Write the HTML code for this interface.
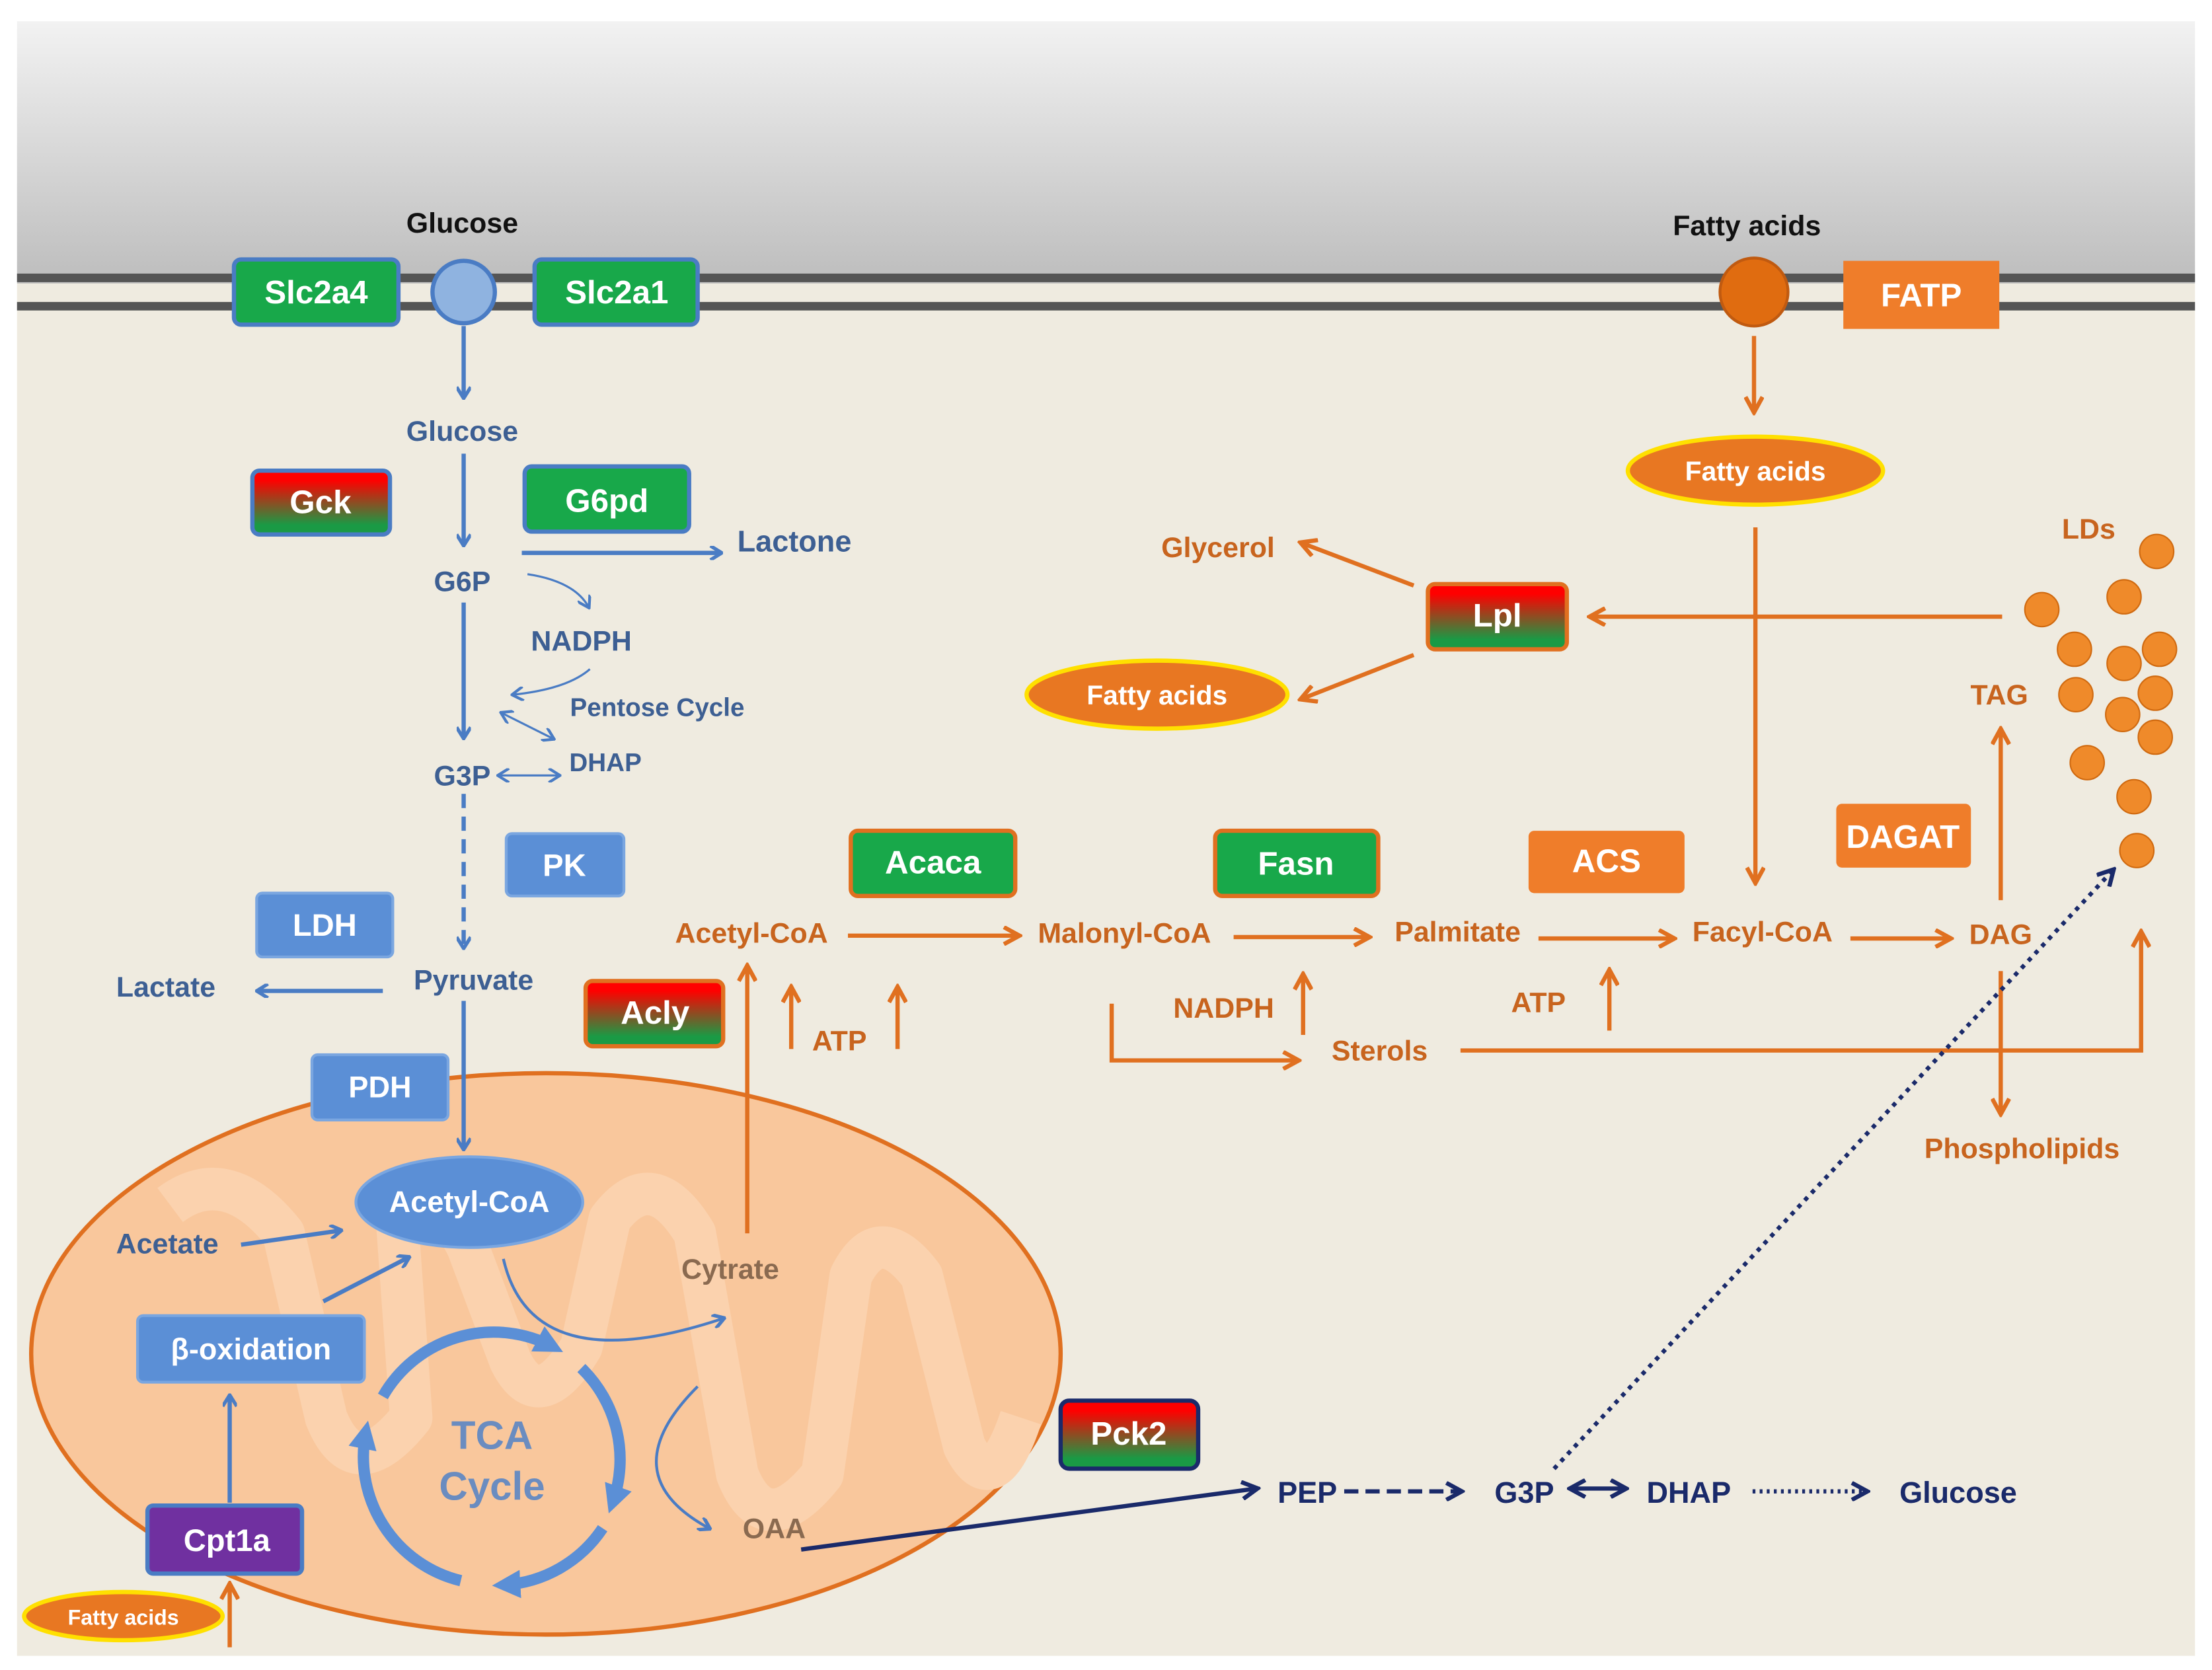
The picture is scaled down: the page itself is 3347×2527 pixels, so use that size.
<!DOCTYPE html>
<html><head><meta charset="utf-8"><style>
html,body{margin:0;padding:0;background:#fff;}
svg{display:block;}
text{font-family:"Liberation Sans",Arial,sans-serif;font-weight:bold;}
</style></head><body>
<svg width="3347" height="2527" viewBox="0 0 1560 1178" preserveAspectRatio="none" xmlns="http://www.w3.org/2000/svg">
<defs>
<linearGradient id="top" x1="0" y1="0" x2="0" y2="1"><stop offset="0" stop-color="#f2f2f2"/><stop offset="1" stop-color="#bdbdbd"/></linearGradient>
<linearGradient id="rg" x1="0" y1="0" x2="0" y2="1"><stop offset="0.15" stop-color="#ff0000"/><stop offset="0.85" stop-color="#1a9a45"/></linearGradient>
<marker id="mb" markerWidth="10" markerHeight="10" refX="8" refY="5" orient="auto" markerUnits="userSpaceOnUse"><path d="M1,0 L9,5 L1,10" fill="none" stroke="#4a7cc4" stroke-width="2.5"/></marker>
<marker id="mbs" markerWidth="10" markerHeight="10" refX="8" refY="5" orient="auto-start-reverse" markerUnits="userSpaceOnUse"><path d="M1,0 L9,5 L1,10" fill="none" stroke="#4a7cc4" stroke-width="2"/></marker>
<marker id="mo" markerWidth="14" markerHeight="14" refX="11" refY="7" orient="auto" markerUnits="userSpaceOnUse"><path d="M1,1 L12,7 L1,13" fill="none" stroke="#e07020" stroke-width="3"/></marker>
<marker id="mn" markerWidth="14" markerHeight="14" refX="11" refY="7" orient="auto-start-reverse" markerUnits="userSpaceOnUse"><path d="M1,1 L12,7 L1,13" fill="none" stroke="#1a2a6a" stroke-width="3"/></marker>
<marker id="mt" markerWidth="24" markerHeight="24" refX="12" refY="12" orient="auto" markerUnits="userSpaceOnUse"><path d="M0,2 L20,12 L0,22 Z" fill="#5b8fd6"/></marker>
</defs>
<rect x="0" y="0" width="1560" height="1178" fill="#fff"/>
<rect x="12" y="15" width="1536" height="185" fill="url(#top)"/>
<rect x="12" y="200" width="1536" height="968" fill="#efebe0"/>
<rect x="12" y="193" width="1536" height="6" fill="#555"/>
<rect x="12" y="213" width="1536" height="6" fill="#555"/>
<ellipse cx="385" cy="955" rx="363" ry="198" fill="#f9c79c" stroke="#e07020" stroke-width="3"/>
<path d="M120,850 Q160,820 200,870 L230,1000 Q250,1050 290,1000 L280,860 Q300,820 330,880 L360,960 Q380,1000 410,950 L430,860 Q460,820 490,870 L520,1040 Q540,1090 580,1040 L600,900 Q620,860 650,900 L680,1020 Q700,1060 720,1000" fill="none" stroke="#fbd2ae" stroke-width="30" stroke-linejoin="round"/>
<text x="326" y="164" font-size="20" fill="#111" text-anchor="middle">Glucose</text>
<text x="1232" y="166" font-size="20" fill="#111" text-anchor="middle">Fatty acids</text>
<rect x="165" y="183" width="116" height="46" rx="5" fill="#18a84a" stroke="#4a7cc4" stroke-width="3"/>
<text x="223" y="214" font-size="23" fill="#fff" text-anchor="middle">Slc2a4</text>
<circle cx="327" cy="206" r="22" fill="#8fb3e0" stroke="#4a7cc4" stroke-width="3"/>
<rect x="377" y="183" width="115" height="46" rx="5" fill="#18a84a" stroke="#4a7cc4" stroke-width="3"/>
<text x="435" y="214" font-size="23" fill="#fff" text-anchor="middle">Slc2a1</text>
<circle cx="1237" cy="206" r="24" fill="#e06c10" stroke="#c05a10" stroke-width="2"/>
<rect x="1300" y="184" width="110" height="48" fill="#ef7d2a"/>
<text x="1355" y="216" font-size="23" fill="#fff" text-anchor="middle">FATP</text>
<g stroke="#4a7cc4" stroke-width="3" fill="none">
<line x1="327" y1="230" x2="327" y2="280" marker-end="url(#mb)"/>
<line x1="327" y1="320" x2="327" y2="384" marker-end="url(#mb)"/>
<line x1="368" y1="390" x2="508" y2="390" marker-end="url(#mb)"/>
<line x1="327" y1="425" x2="327" y2="520" marker-end="url(#mb)"/>
<path d="M372,405 Q405,410 415,428" stroke-width="1.5" marker-end="url(#mbs)"/>
<path d="M416,472 Q400,486 362,490" stroke-width="1.5" marker-end="url(#mbs)"/>
<line x1="354" y1="503" x2="390" y2="521" stroke-width="1.5" marker-start="url(#mbs)" marker-end="url(#mbs)"/>
<line x1="352" y1="547" x2="394" y2="547" stroke-width="1.5" marker-start="url(#mbs)" marker-end="url(#mbs)"/>
<line x1="327" y1="560" x2="327" y2="668" stroke-dasharray="10,6" marker-end="url(#mb)"/>
<line x1="270" y1="699" x2="182" y2="699" marker-end="url(#mb)"/>
<line x1="327" y1="706" x2="327" y2="810" marker-end="url(#mb)"/>
<line x1="170" y1="878" x2="240" y2="868" marker-end="url(#mb)"/>
<line x1="228" y1="918" x2="288" y2="887" marker-end="url(#mb)"/>
<line x1="162" y1="1060" x2="162" y2="985" marker-end="url(#mb)"/>
<path d="M355,888 Q375,975 510,930" stroke-width="2" marker-end="url(#mb)"/>
<path d="M492,978 Q430,1040 500,1078" stroke-width="2" marker-end="url(#mb)"/>
</g>
<g font-size="20" fill="#3d5f93" text-anchor="middle">
<text x="326" y="311">Glucose</text>
<text x="326" y="417">G6P</text>
<text x="410" y="459">NADPH</text>
<text x="427" y="544" font-size="18">DHAP</text>
<text x="326" y="554">G3P</text>
<text x="117" y="703">Lactate</text>
<text x="334" y="698">Pyruvate</text>
<text x="118" y="884">Acetate</text>
</g>
<text x="520" y="389" font-size="21" fill="#3d5f93">Lactone</text>
<text x="402" y="505" font-size="18" fill="#3d5f93">Pentose Cycle</text>
<rect x="178" y="332" width="97" height="45" rx="5" fill="url(#rg)" stroke="#4a7cc4" stroke-width="3"/>
<text x="226" y="362" font-size="23" fill="#fff" text-anchor="middle">Gck</text>
<rect x="370" y="329" width="116" height="46" rx="5" fill="#18a84a" stroke="#4a7cc4" stroke-width="3"/>
<text x="428" y="361" font-size="23" fill="#fff" text-anchor="middle">G6pd</text>
<g fill="#5b8fd6" stroke="#7aa6e0" stroke-width="2">
<rect x="357" y="588" width="83" height="44" rx="4"/>
<rect x="181" y="630" width="96" height="45" rx="4"/>
<rect x="220" y="744" width="96" height="46" rx="4"/>
<rect x="97" y="928" width="160" height="47" rx="4"/>
<ellipse cx="331" cy="848" rx="80" ry="32"/>
</g>
<g font-size="22" fill="#fff" text-anchor="middle">
<text x="398" y="618">PK</text>
<text x="229" y="660">LDH</text>
<text x="268" y="774" font-size="21">PDH</text>
<text x="177" y="959" font-size="21">β-oxidation</text>
<text x="331" y="855" font-size="21">Acetyl-CoA</text>
</g>
<rect x="104" y="1062" width="109" height="48" rx="4" fill="#7030a0" stroke="#4a7cc4" stroke-width="3"/>
<text x="160" y="1094" font-size="22" fill="#fff" text-anchor="middle">Cpt1a</text>
<ellipse cx="87" cy="1140" rx="70" ry="17" fill="#e87722" stroke="#ffe000" stroke-width="3"/>
<text x="87" y="1146" font-size="15" fill="#fff" text-anchor="middle">Fatty acids</text>
<line x1="162" y1="1162" x2="162" y2="1118" stroke="#e07020" stroke-width="3" marker-end="url(#mo)"/>
<g fill="none" stroke="#5b8fd6" stroke-width="8">
<path d="M270,985 A90,90 0 0,1 390,950" marker-end="url(#mt)"/>
<path d="M410,965 A90,90 0 0,1 432,1060" marker-end="url(#mt)"/>
<path d="M425,1078 A90,90 0 0,1 355,1118" marker-end="url(#mt)"/>
<path d="M325,1115 A90,90 0 0,1 258,1010" marker-end="url(#mt)"/>
</g>
<text x="347" y="1022" font-size="28" fill="#6a8cc0" text-anchor="middle">TCA</text>
<text x="347" y="1058" font-size="28" fill="#6a8cc0" text-anchor="middle">Cycle</text>
<text x="515" y="902" font-size="20" fill="#8a6a50" text-anchor="middle">Cytrate</text>
<text x="546" y="1085" font-size="20" fill="#8a6a50" text-anchor="middle">OAA</text>
<g stroke="#e07020" stroke-width="3" fill="none">
<line x1="527" y1="870" x2="527" y2="682" marker-end="url(#mo)"/>
<line x1="558" y1="740" x2="558" y2="697" marker-end="url(#mo)"/>
<line x1="633" y1="740" x2="633" y2="697" marker-end="url(#mo)"/>
<line x1="598" y1="660" x2="718" y2="660" marker-end="url(#mo)"/>
<line x1="870" y1="661" x2="965" y2="661" marker-end="url(#mo)"/>
<line x1="1085" y1="662" x2="1180" y2="662" marker-end="url(#mo)"/>
<line x1="1305" y1="662" x2="1375" y2="662" marker-end="url(#mo)"/>
<line x1="919" y1="730" x2="919" y2="688" marker-end="url(#mo)"/>
<polyline points="784,708 784,748 915,748" marker-end="url(#mo)"/>
<polyline points="1030,741 1510,741 1510,658" marker-end="url(#mo)"/>
<line x1="1135" y1="727" x2="1135" y2="685" marker-end="url(#mo)"/>
<line x1="1411" y1="635" x2="1411" y2="515" marker-end="url(#mo)"/>
<line x1="1411" y1="685" x2="1411" y2="785" marker-end="url(#mo)"/>
<line x1="1237" y1="237" x2="1237" y2="290" marker-end="url(#mo)"/>
<line x1="1238" y1="372" x2="1238" y2="622" marker-end="url(#mo)"/>
<line x1="1412" y1="435" x2="1122" y2="435" marker-end="url(#mo)"/>
<line x1="997" y1="413" x2="918" y2="383" marker-end="url(#mo)"/>
<line x1="997" y1="462" x2="918" y2="493" marker-end="url(#mo)"/>
</g>
<g font-size="20" fill="#c8641e" text-anchor="middle">
<text x="530" y="665">Acetyl-CoA</text>
<text x="793" y="665">Malonyl-CoA</text>
<text x="1028" y="664">Palmitate</text>
<text x="1243" y="664">Facyl-CoA</text>
<text x="1411" y="666">DAG</text>
<text x="1410" y="497">TAG</text>
<text x="1426" y="817">Phospholipids</text>
<text x="592" y="741">ATP</text>
<text x="863" y="718">NADPH</text>
<text x="973" y="748">Sterols</text>
<text x="1085" y="714">ATP</text>
<text x="859" y="393">Glycerol</text>
<text x="1473" y="380">LDs</text>
</g>
<rect x="413" y="692" width="97" height="46" rx="5" fill="url(#rg)" stroke="#e07020" stroke-width="3"/>
<text x="462" y="722" font-size="23" fill="#fff" text-anchor="middle">Acly</text>
<rect x="600" y="586" width="116" height="46" rx="5" fill="#18a84a" stroke="#e07020" stroke-width="3"/>
<text x="658" y="616" font-size="23" fill="#fff" text-anchor="middle">Acaca</text>
<rect x="857" y="586" width="115" height="46" rx="5" fill="#18a84a" stroke="#e07020" stroke-width="3"/>
<text x="914" y="617" font-size="23" fill="#fff" text-anchor="middle">Fasn</text>
<rect x="1078" y="586" width="110" height="44" rx="4" fill="#ef7d2a"/>
<text x="1133" y="615" font-size="23" fill="#fff" text-anchor="middle">ACS</text>
<rect x="1295" y="567" width="95" height="45" rx="4" fill="#ef7d2a"/>
<text x="1342" y="598" font-size="23" fill="#fff" text-anchor="middle">DAGAT</text>
<rect x="1007" y="412" width="98" height="46" rx="5" fill="url(#rg)" stroke="#e07020" stroke-width="3"/>
<text x="1056" y="442" font-size="23" fill="#fff" text-anchor="middle">Lpl</text>
<ellipse cx="1238" cy="332" rx="90" ry="24" fill="#e87722" stroke="#ffe000" stroke-width="3"/>
<text x="1238" y="339" font-size="19" fill="#fff" text-anchor="middle">Fatty acids</text>
<ellipse cx="816" cy="490" rx="92" ry="24" fill="#e87722" stroke="#ffe000" stroke-width="3"/>
<text x="816" y="497" font-size="19" fill="#fff" text-anchor="middle">Fatty acids</text>
<g fill="#ef8a2a" stroke="#d06a10" stroke-width="1">
<circle cx="1521" cy="389" r="12"/><circle cx="1498" cy="421" r="12"/><circle cx="1440" cy="430" r="12"/>
<circle cx="1463" cy="458" r="12"/><circle cx="1523" cy="458" r="12"/><circle cx="1498" cy="468" r="12"/>
<circle cx="1520" cy="489" r="12"/><circle cx="1464" cy="490" r="12"/><circle cx="1497" cy="504" r="12"/>
<circle cx="1520" cy="520" r="12"/><circle cx="1472" cy="538" r="12"/><circle cx="1505" cy="562" r="12"/>
<circle cx="1507" cy="600" r="12"/>
</g>
<g stroke="#1a2a6a" stroke-width="3" fill="none">
<line x1="1096" y1="1036" x2="1490" y2="614" stroke-dasharray="3,4" marker-end="url(#mn)"/>
<line x1="565" y1="1093" x2="886" y2="1050" marker-end="url(#mn)"/>
<line x1="948" y1="1052" x2="1030" y2="1052" stroke-dasharray="10,5" marker-end="url(#mn)"/>
<line x1="1108" y1="1050" x2="1146" y2="1050" marker-start="url(#mn)" marker-end="url(#mn)"/>
<line x1="1236" y1="1052" x2="1316" y2="1052" stroke-dasharray="2,3" marker-end="url(#mn)"/>
</g>
<rect x="748" y="988" width="97" height="48" rx="6" fill="url(#rg)" stroke="#1a2a6a" stroke-width="3"/>
<text x="796" y="1019" font-size="23" fill="#fff" text-anchor="middle">Pck2</text>
<g font-size="21" fill="#1a2a6a" text-anchor="middle">
<text x="922" y="1060">PEP</text>
<text x="1075" y="1060">G3P</text>
<text x="1191" y="1060">DHAP</text>
<text x="1381" y="1060">Glucose</text>
</g>
</svg>
</body></html>
